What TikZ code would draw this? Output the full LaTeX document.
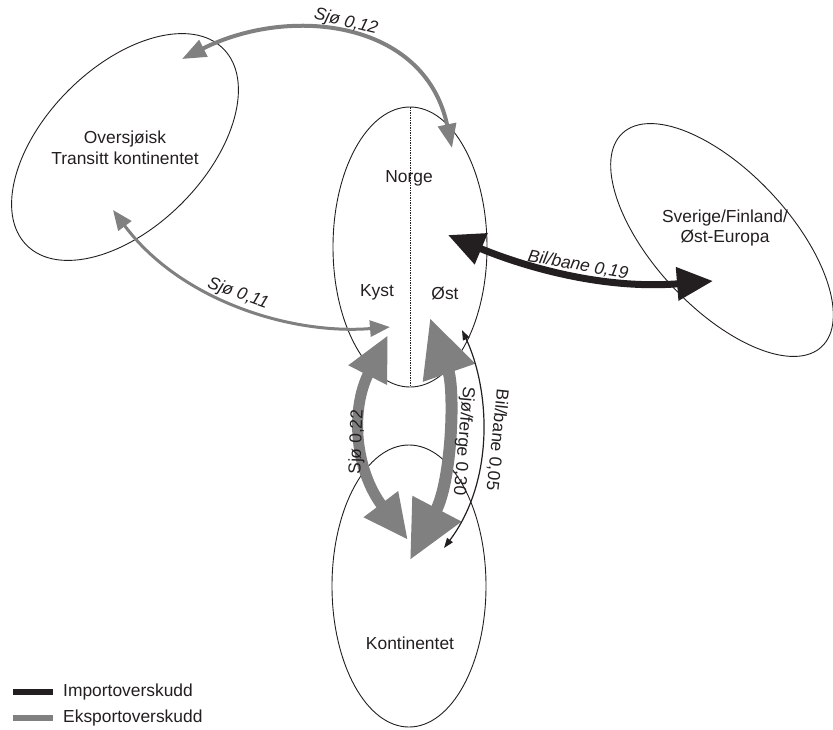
\documentclass[tikz,border=0pt]{standalone}
\usepackage{fontspec}
\setmainfont{Liberation Sans}
\usetikzlibrary{arrows.meta,shapes.geometric}
\definecolor{expgray}{RGB}{128,128,128}
\definecolor{impblack}{RGB}{35,31,32}
\tikzset{
  region/.style={draw=impblack, line width=0.9pt, ellipse, inner sep=0pt, outer sep=0pt},
  lbl/.style={font=\fontsize{17.4}{20.5}\selectfont, text=impblack, inner sep=0pt, align=center},
  flowlbl/.style={font=\fontsize{17.4}{20.5}\selectfont\itshape, text=impblack, inner sep=0pt},
  export/.style={draw=expgray},
  import/.style={draw=impblack},
  divider/.style={draw=impblack, line width=1pt, dash pattern=on 1.5pt off 1pt}
}
\begin{document}
\begin{tikzpicture}[x=1pt,y=-1pt]
		\useasboundingbox (0,0) rectangle (833,729);
		% regions
		\node[region, minimum width=278pt, minimum height=160pt, rotate=45] (oversjo) at (125,147) {};
		\node[region, minimum width=154pt, minimum height=280pt] (norge) at (410,247) {};
		\node[region, minimum width=154pt, minimum height=282pt] (kont) at (409,586) {};
		\node[region, minimum width=292pt, minimum height=136pt, rotate=-47] (sverige) at (722,240) {};
		\draw[divider] (norge.north) -- (norge.south);
		% texts
		\node[lbl] (oversjotxt) at (125,148) {Oversjøisk\\Transitt kontinentet};
		\node[lbl] (norgetxt) at (409,178) {Norge};
		\node[lbl] (kysttxt) at (377,292) {Kyst};
		\node[lbl] (osttxt) at (445,293) {Øst};
		\node[lbl] (konttxt) at (410,643) {Kontinentet};
		\node[lbl] (sverigetxt) at (725,228) {Sverige/Finland/\\Øst-Europa};
		% arrow ends
		\coordinate (norgeNE) at (452,148);
		\coordinate (oversjoN) at (182,59);
		\coordinate (oversjoS) at (113,210);
		\coordinate (kystW) at (390,327);
		\coordinate (kystS) at (388,335);
		\coordinate (ostS) at (430,318);
		\coordinate (ostSE) at (462,330);
		\coordinate (ostE) at (448,235);
		\coordinate (sverigeW) at (713,281);
		\coordinate (kontA) at (408,540);
		\coordinate (kontB) at (410,560);
		\coordinate (kontC) at (444,548);
		% flows
		\draw[export, line width=4pt, {Triangle[length=24pt,width=18pt]}-{Triangle[length=24pt,width=18pt]}]
			(norgeNE) .. controls (425,20) and (290,5) .. (oversjoN);
		\draw[export, line width=3pt, {Triangle[length=20pt,width=16pt]}-{Triangle[length=20pt,width=16pt]}]
			(kystW) .. controls (290,335) and (180,300) .. (oversjoS);
		\draw[import, line width=7pt, {Triangle[length=36pt,width=32pt]}-{Triangle[length=36pt,width=32pt]}]
			(ostE) .. controls (520,265) and (600,290) .. (sverigeW);
		\draw[export, line width=11pt, {Triangle[length=45pt,width=40pt]}-{Triangle[length=45pt,width=40pt]}]
			(kystS) .. controls (350,410) and (355,470) .. (kontA);
		\draw[export, line width=12pt, {Triangle[length=58pt,width=52pt]}-{Triangle[length=58pt,width=52pt]}]
			(ostS) .. controls (455,390) and (452,480) .. (kontB);
		\draw[import, line width=1.2pt, {Triangle[length=10pt,width=7pt]}-{Triangle[length=10pt,width=7pt]}]
			(ostSE) .. controls (490,390) and (495,480) .. (kontC);
		% flow labels
		\node[flowlbl, rotate=-14] (sjo12) at (346,22) {Sjø 0,12};
		\node[flowlbl, rotate=-20] (sjo11) at (238,294) {Sjø 0,11};
		\node[flowlbl, rotate=-10] (bil19) at (578,265) {Bil/bane 0,19};
		\node[lbl, rotate=88] (sjo22) at (357,442) {Sjø 0,22};
		\node[lbl, rotate=-95] (ferge30) at (463,441) {Sjø/ferge 0,30};
		\node[lbl, rotate=-96] (bil05) at (497,440) {Bil/bane 0,05};
		% legend
		\draw[import, line width=6pt] (13,692) -- (53,692);
		\node[lbl, anchor=west] (legimp) at (63,692) {Importoverskudd};
		\draw[export, line width=6pt] (13,718) -- (53,718);
		\node[lbl, anchor=west] (legexp) at (63,718) {Eksportoverskudd};
\end{tikzpicture}
\end{document}
